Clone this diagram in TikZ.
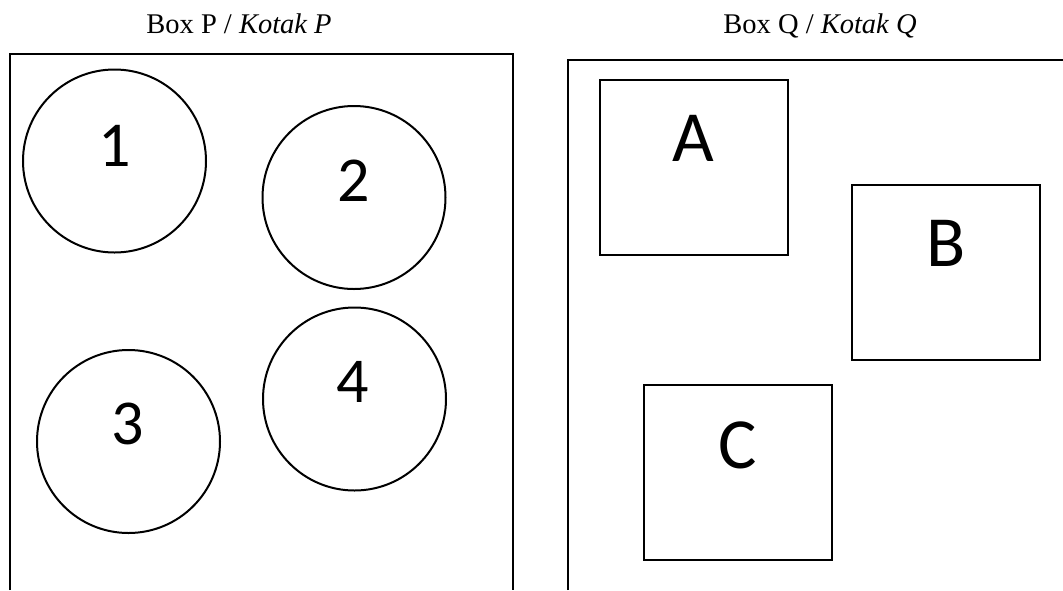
\documentclass[tikz,border=0pt]{standalone}
\usepackage{fontspec}
\setmainfont{Liberation Serif}
\newfontfamily\labfont{Carlito}
\begin{document}
\begin{tikzpicture}[x=1pt,y=-1pt,
  frame/.style={line width=2.3pt,line join=miter},
  disc/.style={circle,draw,line width=2pt,minimum size=183pt,inner sep=0pt},
  sq/.style={draw,line width=2.3pt,minimum width=188pt,minimum height=175pt,inner sep=0pt},
  num/.style={inner sep=0pt,font=\labfont\fontsize{64}{64}\selectfont},
  let/.style={inner sep=0pt,font=\labfont\fontsize{72}{72}\selectfont},
  ttl/.style={inner sep=0pt,anchor=base,font=\fontsize{28.5}{32}\selectfont}]
\useasboundingbox (0,0) rectangle (1063,590);
% titles
\node[ttl] (tP) at (239,33) {Box P / \textit{Kotak P}};
\node[ttl] (tQ) at (820,33) {Box Q / \textit{Kotak Q}};
% open frames
\coordinate (p1) at (10,590);
\coordinate (p2) at (10,54);
\coordinate (p3) at (513,54);
\coordinate (p4) at (513,590);
\draw[frame] (p1) -- (p2) -- (p3) -- (p4);
\coordinate (q1) at (568,590);
\coordinate (q2) at (568,60);
\coordinate (q3) at (1064,60);
\draw[frame] (q1) -- (q2) -- (q3);
% circles
\node[disc] (c1) at (114.5,161) {};
\node[disc] (c2) at (354,197.5) {};
\node[disc] (c3) at (128.5,441.5) {};
\node[disc] (c4) at (354.5,399) {};
\node[num] (n1) at (115,146) {1};
\node[num] (n2) at (354,181) {2};
\node[num] (n3) at (128,424) {3};
\node[num] (n4) at (353,382) {4};
% squares
\node[sq] (sA) at (694,167.5) {};
\node[sq] (sB) at (946,272.5) {};
\node[sq] (sC) at (738,472.5) {};
\node[let] (lA) at (693,138) {A};
\node[let] (lB) at (946,243) {B};
\node[let] (lC) at (738,445) {C};
\end{tikzpicture}
\end{document}
